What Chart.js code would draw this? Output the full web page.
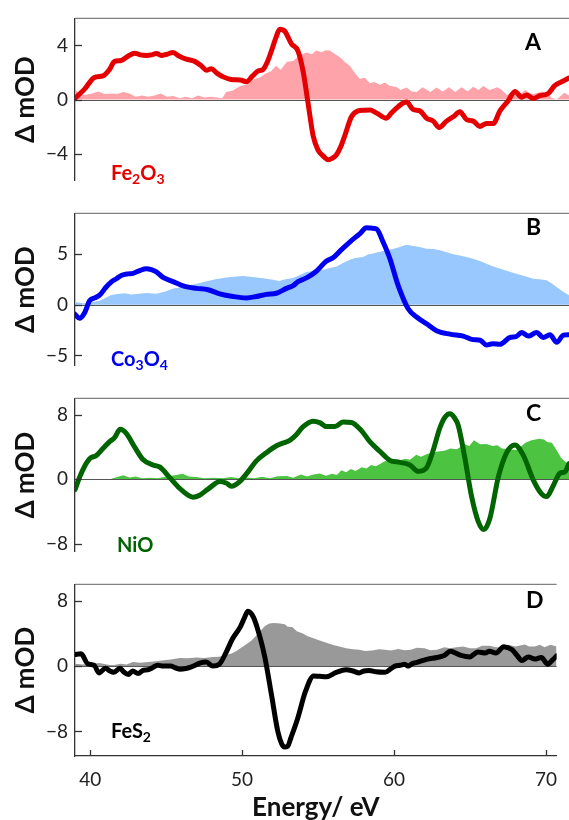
<!DOCTYPE html>
<html><head><meta charset="utf-8">
<script src="https://cdn.jsdelivr.net/npm/chart.js@4.4.1/dist/chart.umd.min.js"></script>
<style>
html,body{margin:0;padding:0;background:#fff;}
#wrap{position:relative;width:569px;height:820px;overflow:hidden;background:#fff;}
.pane{position:absolute;left:0;width:569px;}
canvas{display:block;}
</style></head><body>
<div id="wrap">
  <div class="pane" style="top:0px;height:199px"><canvas id="cA"></canvas></div>
  <div class="pane" style="top:195px;height:189px"><canvas id="cB"></canvas></div>
  <div class="pane" style="top:380px;height:190px"><canvas id="cC"></canvas></div>
  <div class="pane" style="top:566px;height:254px"><canvas id="cD"></canvas></div>
</div>
<script>
// ---------- DATA ----------
const xRange = [39, 70.7];
const xTicks = [40, 50, 60, 70];
const yTicksA = [-4, 0, 4];
const yTicksB = [-5, 0, 5];
const yTicksC = [-8, 0, 8];
const yTicksD = [-8, 0, 8];
const materials = ['Fe2O3', 'Co3O4', 'NiO', 'FeS2'];
const panelLetters = ['A', 'B', 'C', 'D'];

// Panel A (Fe2O3): [energy eV, ΔmOD]
const lineA = [[39.0,0.1],[39.6,0.75],[40.26,1.64],[40.8,1.75],[41.2,2.2],[41.54,2.82],[41.97,2.89],[42.4,3.2],[42.83,3.43],[43.2,3.3],[43.58,3.26],[43.9,3.3],[44.22,3.41],[44.54,3.26],[44.9,3.35],[45.29,3.47],[45.7,3.2],[46.14,2.98],[46.68,2.82],[47.1,2.5],[47.43,2.17],[47.75,2.28],[48.1,1.95],[48.5,1.68],[49.14,1.46],[49.6,1.45],[50.0,1.31],[50.4,1.75],[50.75,2.11],[51.07,2.22],[51.35,2.8],[51.6,3.58],[51.9,4.6],[52.14,5.2],[52.46,5.05],[52.89,4.12],[53.31,3.58],[53.64,2.07],[53.96,-0.3],[54.28,-2.68],[54.6,-3.75],[54.9,-4.15],[55.24,-4.45],[55.5,-4.35],[55.78,-4.08],[56.05,-3.5],[56.31,-2.68],[56.74,-1.28],[57.17,-0.84],[57.5,-0.8],[57.92,-0.78],[58.35,-1.0],[58.99,-1.38],[59.3,-1.0],[59.63,-0.63],[60.0,-0.3],[60.28,-0.19],[60.7,-0.74],[61.13,-0.84],[61.56,-1.38],[61.99,-1.6],[62.37,-2.07],[62.84,-1.6],[63.27,-1.28],[63.7,-0.91],[64.13,-1.49],[64.55,-1.6],[64.98,-1.99],[65.41,-1.77],[65.84,-1.77],[66.27,-0.84],[66.8,-0.09],[67.23,0.6],[67.66,0.17],[67.98,0.34],[68.41,0.08],[68.84,0.28],[69.37,0.45],[69.8,1.04],[70.23,1.31],[70.7,1.59]];
const fillA = [[39.0,0.78],[39.3,0.35],[39.7,0.35],[40.1,0.45],[40.5,0.6],[40.9,0.4],[41.3,0.45],[41.7,0.4],[42.1,0.55],[42.5,0.45],[42.9,0.2],[43.3,0.3],[43.7,0.2],[44.1,0.3],[44.5,0.45],[44.9,0.2],[45.3,0.25],[45.7,0.1],[46.1,0.2],[46.5,0.1],[46.9,0.3],[47.3,0.15],[47.7,0.2],[48.1,0.15],[48.45,0.1],[48.7,0.55],[49.1,0.65],[49.6,1.0],[50.0,1.1],[50.5,1.5],[50.9,1.65],[51.2,1.9],[51.6,2.1],[51.9,2.5],[52.2,2.2],[52.6,2.8],[53.0,2.85],[53.4,3.25],[53.85,3.47],[54.2,3.35],[54.49,3.62],[54.8,3.5],[55.1,3.65],[55.35,3.62],[55.7,3.35],[55.99,3.15],[56.3,2.8],[56.63,2.5],[57.0,1.9],[57.27,1.53],[57.6,1.6],[57.92,1.2],[58.2,1.3],[58.56,1.1],[58.9,1.25],[59.2,0.99],[59.6,0.95],[59.9,0.7],[60.28,0.88],[60.6,0.6],[60.92,0.56],[61.3,0.9],[61.8,0.55],[62.2,0.88],[62.6,0.6],[63.0,0.9],[63.4,0.55],[63.8,0.9],[64.2,0.6],[64.55,0.95],[64.9,0.7],[65.2,0.99],[65.6,0.7],[66.1,0.9],[66.4,0.7],[66.7,0.34],[67.2,0.6],[67.5,0.35],[67.9,0.7],[68.2,0.45],[68.4,0.4],[69.0,0.6],[69.3,0.4],[69.6,0.13],[69.9,0.0],[70.4,0.5],[70.7,0.3]];

// Panel B (Co3O4)
const lineB = [[39.0,-0.94],[39.29,-1.34],[39.61,-0.81],[39.94,0.4],[40.26,0.67],[40.58,0.94],[41.0,1.75],[41.3,2.2],[41.65,2.56],[42.0,2.9],[42.4,3.04],[42.72,3.09],[43.15,3.36],[43.58,3.55],[43.9,3.45],[44.22,3.23],[44.65,2.69],[45.29,2.28],[46.04,1.8],[46.79,1.61],[47.53,1.48],[48.29,1.07],[49.14,0.81],[50.0,0.67],[50.64,0.81],[51.28,1.02],[51.93,1.13],[52.57,1.61],[53.0,1.88],[53.31,2.28],[53.85,2.64],[54.49,3.3],[55.14,4.3],[55.56,4.62],[56.1,5.43],[56.63,6.18],[57.27,6.99],[57.7,7.58],[58.0,7.55],[58.35,7.47],[58.77,6.18],[59.2,4.57],[59.74,1.88],[60.38,-0.4],[60.92,-1.21],[61.56,-1.88],[62.2,-2.56],[63.06,-2.9],[63.91,-3.09],[64.55,-3.44],[65.0,-3.5],[65.41,-3.98],[65.8,-3.85],[66.27,-3.9],[66.91,-3.23],[67.3,-3.15],[67.66,-2.74],[68.09,-3.09],[68.62,-2.74],[69.05,-3.23],[69.48,-2.96],[69.91,-3.71],[70.34,-3.0],[70.7,-2.96]];
const fillB = [[39.0,0.27],[39.6,0.13],[40.1,0.25],[40.6,0.4],[41.0,0.7],[41.3,0.94],[41.7,1.05],[42.2,1.13],[42.6,1.0],[43.1,1.07],[43.6,1.15],[44.2,1.07],[44.8,1.3],[45.3,1.61],[45.7,1.7],[46.1,1.88],[46.6,2.0],[47.0,2.15],[47.4,2.28],[48.0,2.5],[48.7,2.69],[49.2,2.75],[49.8,2.82],[50.4,2.74],[50.8,2.65],[51.3,2.56],[51.7,2.45],[52.1,2.35],[52.5,2.5],[53.0,2.64],[53.4,2.9],[53.85,3.23],[54.4,3.35],[54.92,3.44],[55.3,3.6],[55.78,3.76],[56.2,4.1],[56.63,4.44],[57.0,4.6],[57.49,4.71],[57.8,4.95],[58.13,5.06],[58.5,5.2],[58.99,5.38],[59.4,5.5],[59.84,5.7],[60.27,5.91],[60.7,5.78],[61.1,5.7],[61.56,5.51],[62.0,5.5],[62.41,5.38],[62.8,5.2],[63.27,4.97],[63.7,4.85],[64.13,4.71],[64.6,4.5],[64.98,4.3],[65.4,4.05],[65.84,3.76],[66.3,3.55],[66.7,3.36],[67.1,3.15],[67.55,2.96],[68.0,2.75],[68.41,2.56],[68.8,2.5],[69.26,2.42],[69.6,2.1],[69.9,1.75],[70.3,1.3],[70.7,0.94]];

// Panel C (NiO)
const lineC = [[39.0,-1.33],[39.29,0.2],[39.61,1.56],[39.94,2.52],[40.37,2.93],[40.79,3.78],[41.22,4.63],[41.54,5.14],[41.9,6.16],[42.29,5.65],[42.83,3.95],[43.36,2.42],[44.0,1.74],[44.43,1.5],[45.07,0.2],[45.71,-1.15],[46.25,-2.0],[46.57,-2.25],[47.0,-2.0],[47.64,-1.09],[48.29,-0.31],[48.7,-0.5],[49.04,-0.89],[49.57,-0.31],[50.1,0.89],[50.64,2.25],[51.28,3.27],[51.93,4.12],[52.4,4.5],[52.78,4.8],[53.2,5.5],[53.64,6.5],[54.28,7.18],[54.7,7.0],[55.14,6.5],[55.67,6.5],[56.2,7.08],[56.74,7.02],[57.38,6.0],[57.92,4.63],[58.56,3.44],[59.2,2.32],[59.85,2.07],[60.49,1.74],[61.02,0.95],[61.56,1.4],[61.99,3.61],[62.41,6.33],[62.75,7.7],[63.06,8.1],[63.35,7.6],[63.59,6.67],[64.02,2.58],[64.45,-2.18],[64.87,-5.24],[65.24,-6.26],[65.62,-4.9],[66.16,0.2],[66.7,3.27],[67.23,4.22],[67.77,2.93],[68.41,-0.13],[68.94,-1.84],[69.26,-2.18],[69.69,-0.82],[70.12,0.72],[70.44,0.89],[70.7,1.91]];
const fillC = [[39.0,0],[41.3,0],[41.6,0.2],[42.1,0.48],[42.5,0.2],[42.9,0.3],[43.3,0.1],[43.8,0.15],[44.3,0.1],[44.9,0.3],[45.5,0.5],[45.9,0.65],[46.3,0.3],[46.8,0.25],[47.3,0.1],[47.9,0.15],[48.5,0.1],[49.0,0.25],[49.5,0.1],[50.0,0.2],[50.5,0.1],[51.0,0.27],[51.5,0.1],[52.0,0.35],[52.6,0.37],[53.0,0.15],[53.5,0.55],[53.9,0.3],[54.3,0.55],[54.7,0.7],[55.1,0.4],[55.5,0.65],[55.8,0.5],[56.1,1.1],[56.4,0.85],[56.7,1.23],[57.0,1.0],[57.4,1.46],[57.7,1.3],[58.0,1.74],[58.3,1.6],[58.6,1.9],[58.9,2.25],[59.3,2.1],[59.8,2.3],[60.2,2.5],[60.5,2.4],[60.9,3.0],[61.2,2.75],[61.6,3.1],[62.0,3.3],[62.3,3.4],[62.7,3.5],[63.1,3.8],[63.5,3.7],[64.0,4.3],[64.3,4.1],[64.6,4.8],[65.0,4.3],[65.4,4.36],[65.8,4.1],[66.1,4.2],[66.4,3.8],[66.9,3.7],[67.3,3.6],[67.6,4.0],[67.9,4.5],[68.3,4.8],[68.8,5.0],[69.1,4.9],[69.3,4.6],[69.6,4.5],[69.9,3.6],[70.2,2.6],[70.7,1.75]];

// Panel D (FeS2)
const lineD = [[39.0,1.43],[39.4,1.5],[39.83,0.3],[40.26,0.11],[40.58,-0.83],[41.0,-0.27],[41.3,-0.6],[41.54,-0.76],[41.97,-0.27],[42.2,-0.7],[42.5,-1.02],[42.8,-0.6],[43.15,-0.9],[43.5,-0.5],[43.79,-0.45],[44.1,-0.2],[44.43,0.11],[44.8,0.0],[45.29,0.0],[45.6,-0.2],[45.93,-0.38],[46.3,-0.3],[46.57,-0.16],[46.9,0.1],[47.21,0.37],[47.64,0.49],[48.07,0.0],[48.5,0.23],[48.93,1.62],[49.36,3.32],[49.89,4.83],[50.15,5.9],[50.38,6.71],[50.75,5.96],[51.18,3.51],[51.5,1.05],[51.93,-3.48],[52.35,-8.0],[52.6,-9.5],[52.78,-9.9],[53.0,-9.8],[53.21,-8.77],[53.64,-6.5],[54.17,-3.1],[54.71,-1.21],[55.1,-1.25],[55.56,-1.29],[56.2,-0.76],[56.84,-0.45],[57.3,-0.6],[57.7,-0.83],[58.0,-0.6],[58.35,-0.53],[58.8,-0.7],[59.41,-0.76],[59.8,-0.3],[60.06,0.0],[60.4,0.1],[60.7,0.23],[60.92,0.0],[61.2,0.3],[61.56,0.49],[62.2,0.86],[62.84,1.05],[63.3,1.3],[63.7,1.81],[64.34,1.36],[64.98,1.13],[65.52,1.73],[66.0,1.6],[66.27,1.81],[66.7,1.62],[67.23,2.38],[67.77,1.99],[68.1,1.3],[68.41,0.68],[68.84,1.13],[69.26,0.86],[69.69,1.05],[70.12,0.23],[70.4,0.7],[70.7,1.25]];
const fillD = [[39.0,0.3],[39.5,0.2],[40.1,0.3],[40.6,0.37],[41.1,0.2],[41.5,0.1],[42.0,0.3],[42.4,0.2],[42.8,0.5],[43.3,0.4],[43.8,0.5],[44.2,0.55],[44.7,0.68],[45.3,0.8],[45.9,0.98],[46.4,0.95],[47.0,1.05],[47.5,1.0],[48.1,1.13],[48.5,1.15],[48.9,1.36],[49.3,1.55],[49.6,1.81],[50.2,2.57],[50.6,3.1],[50.9,3.7],[51.2,4.3],[51.5,4.9],[51.8,5.2],[52.1,5.28],[52.5,5.2],[52.8,5.13],[53.0,4.83],[53.3,4.8],[53.6,4.27],[54.0,4.0],[54.28,3.7],[54.7,3.4],[55.1,3.14],[55.5,2.9],[55.99,2.57],[56.4,2.4],[56.84,2.2],[57.3,2.05],[57.7,2.0],[58.1,1.85],[58.56,1.9],[59.0,2.05],[59.4,2.0],[59.8,1.9],[60.27,2.1],[60.7,1.95],[61.1,2.0],[61.5,2.25],[62.0,2.2],[62.4,1.95],[62.84,2.0],[63.3,2.3],[63.7,2.2],[64.1,2.3],[64.55,2.4],[65.0,2.2],[65.4,2.2],[65.8,2.5],[66.3,2.5],[66.7,2.3],[67.1,2.3],[67.5,2.6],[68.0,2.4],[68.6,2.64],[68.9,2.4],[69.26,2.4],[69.6,2.6],[69.9,2.3],[70.3,2.6],[70.7,2.4]];

// ---------- RENDERING ----------
const FONT = 'Lato, "Open Sans", sans-serif';
const toXY = arr => arr.map(([x, y]) => ({x, y}));
const fmt = v => (v < 0 ? '\u2212' + Math.abs(v) : String(v));

function decoPlugin(o) {
  return {
    id: 'deco' + o.letter,
    afterDatasetDraw(chart, args) {
      if (args.index !== 1) return;
      const {ctx, chartArea: a} = chart;
      const y0 = Math.round(chart.scales.y.getPixelForValue(0)) + 0.5;
      ctx.save();
      ctx.strokeStyle = '#555'; ctx.lineWidth = 1;
      ctx.beginPath(); ctx.moveTo(a.left, y0); ctx.lineTo(a.right, y0); ctx.stroke();
      ctx.restore();
    },
    afterDraw(chart) {
      const {ctx, chartArea: a} = chart;
      ctx.save();
      ctx.strokeStyle = '#808080'; ctx.lineWidth = 1.3;
      ctx.beginPath(); ctx.moveTo(a.left, a.top); ctx.lineTo(a.right, a.top); ctx.stroke();
      ctx.strokeStyle = '#333'; ctx.lineWidth = 1.3;
      for (const v of o.yTicks) {
        const py = Math.round(chart.scales.y.getPixelForValue(v)) + 0.5;
        ctx.beginPath(); ctx.moveTo(a.left, py); ctx.lineTo(a.left + 7, py); ctx.stroke();
      }
      if (o.showX) {
        for (const v of xTicks) {
          const px = Math.round(chart.scales.x.getPixelForValue(v)) + 0.5;
          ctx.beginPath(); ctx.moveTo(px, a.bottom); ctx.lineTo(px, a.bottom - 6); ctx.stroke();
        }
      }
      ctx.textAlign = 'left'; ctx.textBaseline = 'alphabetic';
      ctx.fillStyle = '#000'; ctx.font = 'bold 23px ' + FONT;
      ctx.fillText(o.letter, o.letterX, o.letterY - o.top);
      let x = o.labelX; const yb = o.labelY - o.top;
      ctx.fillStyle = o.labelColor;
      for (const [t, sub] of o.labelParts) {
        ctx.font = sub ? 'bold 14px ' + FONT : 'bold 20px ' + FONT;
        ctx.fillText(t, x, sub ? yb + 4 : yb);
        x += ctx.measureText(t).width;
      }
      ctx.restore();
    }
  };
}

function makePanel(o) {
  return new Chart(document.getElementById(o.id), {
    type: 'line',
    data: { datasets: [
      { data: toXY(o.line), borderColor: o.lineColor, borderWidth: 5, pointRadius: 0,
        cubicInterpolationMode: 'monotone', fill: false, order: 1,
        borderJoinStyle: 'round', borderCapStyle: 'round' },
      { data: toXY(o.fill), borderWidth: 0, borderColor: 'rgba(0,0,0,0)', backgroundColor: o.fillColor,
        pointRadius: 0, tension: 0, fill: 'origin', order: 2 }
    ]},
    options: {
      responsive: true, maintainAspectRatio: false, animation: false,
      events: [],
      layout: { padding: { top: o.padTop, left: 0, right: 0, bottom: 0 } },
      plugins: { legend: { display: false }, tooltip: { enabled: false } },
      scales: {
        x: {
          type: 'linear', min: xRange[0], max: xRange[1], display: o.showX,
          afterBuildTicks: s => { s.ticks = xTicks.map(v => ({value: v})); },
          afterFit: s => { s.height = o.showX ? 64 : 0; },
          grid: { display: false, drawTicks: false },
          border: { display: true, color: '#333', width: 1.3 },
          ticks: { padding: 12, color: '#222', font: { family: FONT, size: 19 }, maxRotation: 0, autoSkip: false },
          title: { display: true, text: 'Energy/ eV', color: '#111', font: { family: FONT, size: 26, weight: 'bold' }, padding: { top: 0, bottom: -3 } }
        },
        y: {
          min: o.yMin, max: o.yMax,
          afterBuildTicks: s => { s.ticks = o.yTicks.map(v => ({value: v})); },
          afterFit: s => { s.width = 75; },
          grid: { display: false, drawTicks: false },
          border: { display: true, color: '#333', width: 1.3 },
          ticks: { padding: 7, color: '#222', font: { family: FONT, size: 19 }, callback: v => fmt(v), autoSkip: false },
          title: { display: true, text: '\u0394 mOD', color: '#111', font: { family: FONT, size: 26, weight: 'bold' }, padding: { top: 10, bottom: 0 } }
        }
      }
    },
    plugins: [decoPlugin(o)]
  });
}

makePanel({ id: 'cA', top: 0, padTop: 13, line: lineA, fill: fillA, lineColor: '#e40000', fillColor: '#ffa3ab',
  yMin: -6, yMax: 6, yTicks: yTicksA, showX: false, letter: panelLetters[0], letterX: 525, letterY: 50,
  labelX: 111, labelY: 180, labelColor: '#e40000', labelParts: [['Fe',0],['2',1],['O',0],['3',1]] });
makePanel({ id: 'cB', top: 195, padTop: 4, line: lineB, fill: fillB, lineColor: '#0000f0', fillColor: '#99c8ff',
  yMin: -6, yMax: 9, yTicks: yTicksB, showX: false, letter: panelLetters[1], letterX: 526, letterY: 235,
  labelX: 111, labelY: 366, labelColor: '#0000f0', labelParts: [['Co',0],['3',1],['O',0],['4',1]] });
makePanel({ id: 'cC', top: 380, padTop: 4, line: lineC, fill: fillC, lineColor: '#006400', fillColor: '#4cc441',
  yMin: -9, yMax: 10, yTicks: yTicksC, showX: false, letter: panelLetters[2], letterX: 526, letterY: 421,
  labelX: 117, labelY: 552, labelColor: '#006400', labelParts: [['NiO',0]] });
makePanel({ id: 'cD', top: 566, padTop: 4, line: lineD, fill: fillD, lineColor: '#000000', fillColor: '#999999',
  yMin: -11, yMax: 10, yTicks: yTicksD, showX: true, letter: panelLetters[3], letterX: 526, letterY: 608,
  labelX: 111, labelY: 738, labelColor: '#000000', labelParts: [['FeS',0],['2',1]] });
</script>
</body></html>
